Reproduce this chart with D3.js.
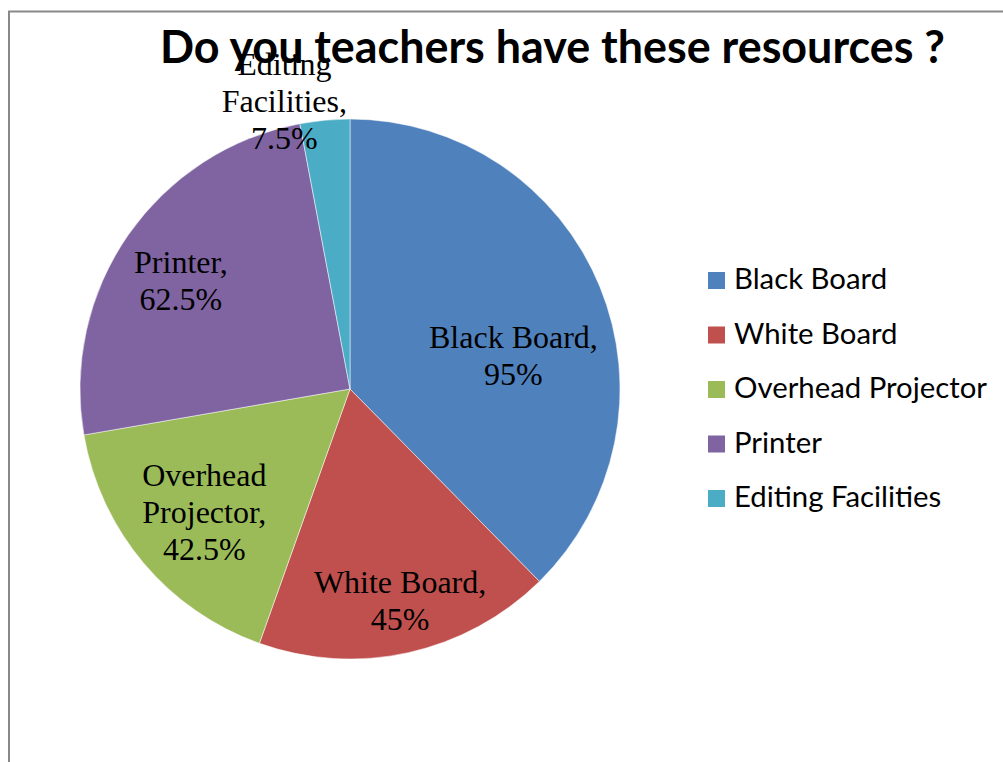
<!DOCTYPE html>
<html>
<head>
<meta charset="utf-8">
<script src="https://cdn.jsdelivr.net/npm/d3@7"></script>
<style>
  html, body { margin: 0; padding: 0; background: #fff; }
  svg { display: block; }
</style>
</head>
<body>
<svg id="chart" width="1003" height="762"></svg>
<script>
// ---- data ----
const categories = ["Black Board", "White Board", "Overhead Projector", "Printer", "Editing Facilities"];
const values = [95, 45, 42.5, 62.5, 7.5];
const valueLabels = ["95%", "45%", "42.5%", "62.5%", "7.5%"];
const labelLines = [
  ["Black Board,", "95%"],
  ["White Board,", "45%"],
  ["Overhead", "Projector,", "42.5%"],
  ["Printer,", "62.5%"],
  ["Editing", "Facilities,", "7.5%"]
];
const titleText = "Do you teachers have these resources ?";

// ---- styles / layout ----
const colors = ["#4F81BD", "#C0504D", "#9BBB59", "#8064A2", "#4BACC6"];
const cx = 350, cy = 389, R = 270;
// label placement (radius fraction, angle delta in degrees from slice mid-angle)
const labelPlace = [
  { rf: 0.611, da: 14.5 },
  { rf: 0.845, da: -0.2 },
  { rf: 0.733, da: -2.5 },
  { rf: 0.722, da: -4.9 },
  { rf: 1.054, da: -8.0 }
];

const svg = d3.select("#chart");

// frame (chart border, partially visible)
svg.append("rect")
  .attr("x", 9).attr("y", 11.5)
  .attr("width", 1100).attr("height", 900)
  .attr("fill", "none")
  .attr("stroke", "#898989")
  .attr("stroke-width", 2);

// title
const title = svg.append("text")
  .attr("x", 552.5).attr("y", 63)
  .attr("text-anchor", "middle")
  .attr("font-family", "Lato, 'Open Sans', sans-serif")
  .attr("font-weight", "bold")
  .attr("font-size", 40)
  .attr("fill", "#000")
  .text(titleText);
{
  const w = title.node().getComputedTextLength();
  title.attr("font-size", 40 * 785 / w);
}

// pie
const pie = d3.pie().sort(null).value(d => d)(values);
const arc = d3.arc().innerRadius(0).outerRadius(R);
const g = svg.append("g").attr("transform", `translate(${cx},${cy})`);
g.selectAll("path.slice")
  .data(pie)
  .join("path")
  .attr("class", "slice")
  .attr("d", arc)
  .attr("fill", (d, i) => colors[i])
  .attr("stroke", "#fff")
  .attr("stroke-width", 0.5);

// data labels
const lineH = 37;
pie.forEach((d, i) => {
  const mid = (d.startAngle + d.endAngle) / 2 + labelPlace[i].da * Math.PI / 180;
  const r = R * labelPlace[i].rf;
  const x = r * Math.sin(mid);
  const y = -r * Math.cos(mid);
  const lines = labelLines[i];
  const t = g.append("text")
    .attr("text-anchor", "middle")
    .attr("font-family", "'Liberation Serif', 'Times New Roman', serif")
    .attr("font-size", 32)
    .attr("fill", "#000");
  lines.forEach((ln, k) => {
    t.append("tspan")
      .attr("x", x)
      .attr("y", y + (k - (lines.length - 1) / 2) * lineH)
      .text(ln);
  });
});

// legend
const legend = svg.append("g");
const legRowY = d3.scalePoint().domain(categories).range([289, 507]);
const items = legend.selectAll("g.item")
  .data(categories)
  .join("g")
  .attr("class", "item")
  .attr("transform", d => `translate(0,${legRowY(d)})`);
items.append("rect")
  .attr("x", 708).attr("y", -17)
  .attr("width", 17).attr("height", 17)
  .attr("fill", (d, i) => colors[i]);
const legTexts = items.append("text")
  .attr("x", 734).attr("y", 0)
  .attr("font-family", "Lato, 'Open Sans', sans-serif")
  .attr("font-size", 26)
  .attr("fill", "#000")
  .text(d => d);
{
  const w = legTexts.filter((d, i) => i === 2).node().getComputedTextLength();
  legTexts.attr("font-size", 26 * 253 / w);
}
</script>
</body>
</html>
